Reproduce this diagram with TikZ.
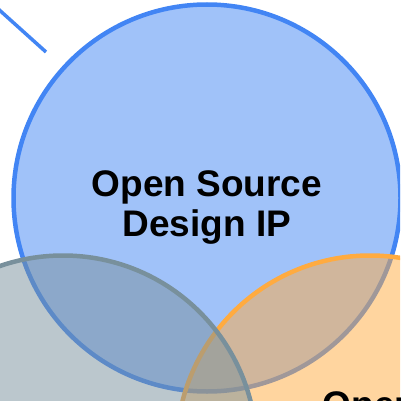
\documentclass[tikz,border=0pt]{standalone}
\usepackage{fontspec}
\setmainfont{Liberation Sans}
\usetikzlibrary{positioning}
\definecolor{ipblue}{HTML}{4285F4}
\definecolor{toolorange}{HTML}{FFAB40}
\definecolor{fabgray}{HTML}{78909C}

\begin{document}
\begin{tikzpicture}[
  x=1pt,y=-1pt,
  venn/.style={circle,draw,line width=4.5pt,minimum size=387pt,inner sep=0pt,fill opacity=.5},
  caption/.style={font=\fontsize{37}{40}\selectfont\bfseries,align=center,inner sep=0pt}
]
  \useasboundingbox (0,0) rectangle (400,401);
  \clip (0,0) rectangle (400,401);

  % pointer from outside
  \coordinate (tipA) at (-4,7);
  \coordinate (tipB) at (46,52);
  \draw[ipblue,line width=3.5pt] (tipA) -- (tipB);

  \node[venn,draw=ipblue,fill=ipblue] (design) at (207,198) {};
  \node[venn,draw=toolorange,fill=toolorange] (tools) at (370,449) {};
  \node[venn,draw=fabgray,fill=fabgray] (fab) at (63,449) {};

  \node[caption,anchor=base] (designtxt) at ([yshift=-38pt]design.center) {Open Source\\Design IP};
  \node[caption,anchor=base] (toolstxt) at ([yshift=32pt]tools.center) {Open};
\end{tikzpicture}
\end{document}
